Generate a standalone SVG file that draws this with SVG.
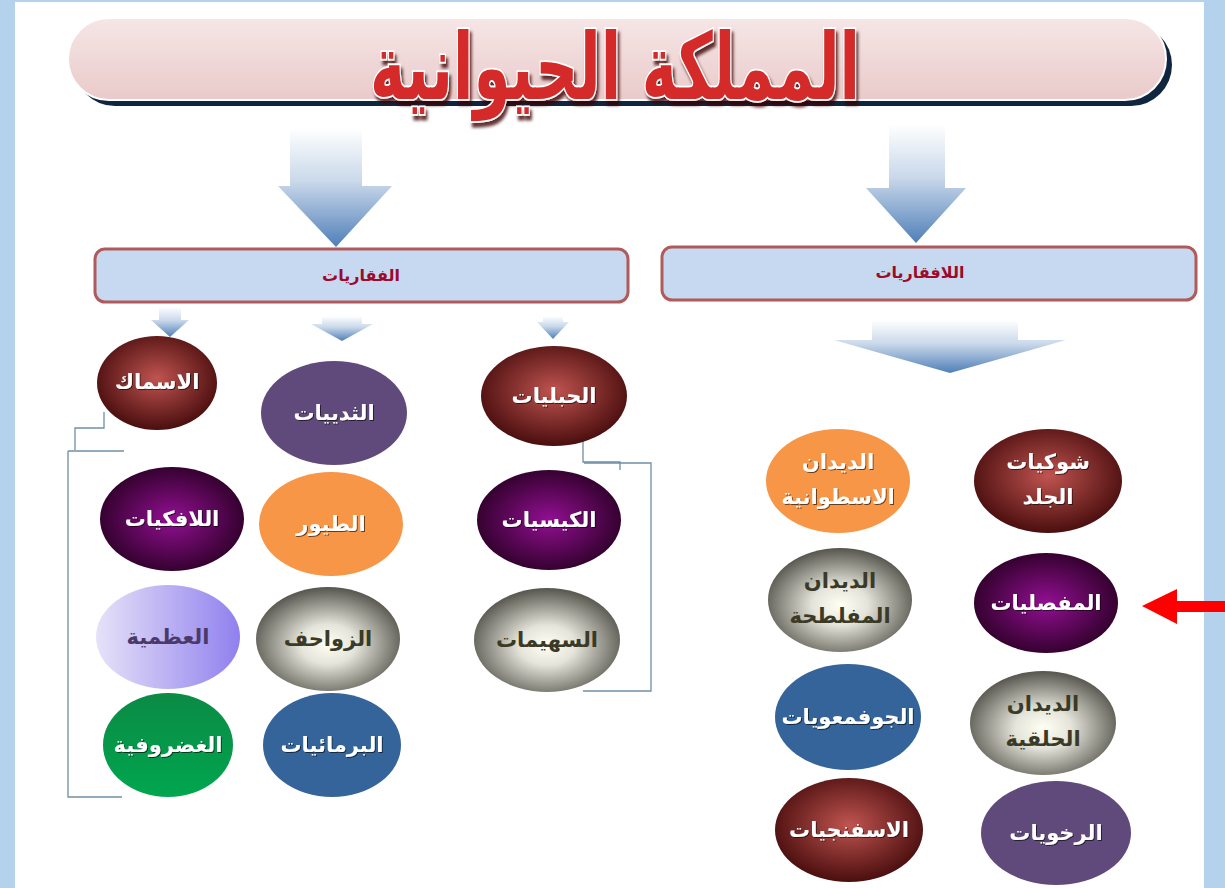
<svg xmlns="http://www.w3.org/2000/svg" width="1225" height="888" viewBox="0 0 1225 888">
<style>
.lbl{font-family:'DejaVu Sans','Noto Sans',sans-serif;font-weight:bold;font-size:21px;text-anchor:middle;fill:#ffffff}
.dk{fill:#3a3a26}
.lv{fill:#4a3a6a}
.box{fill:#c6d9f1;stroke:#b05a5a;stroke-width:3}
.boxt{font-family:'DejaVu Sans','Noto Sans',sans-serif;font-weight:bold;font-size:16px;text-anchor:middle;fill:#9c0b2a}
.br{fill:none;stroke:#6f8fa6;stroke-width:1.3}
.arr{fill:url(#ga)}
</style>
<defs>
<linearGradient id="ga" x1="0" y1="0" x2="0" y2="1">
<stop offset="0" stop-color="#ffffff"/>
<stop offset="0.45" stop-color="#c9d8ea"/>
<stop offset="1" stop-color="#4f7fb8"/>
</linearGradient>
<linearGradient id="gp" x1="0" y1="0" x2="0" y2="1">
<stop offset="0" stop-color="#f6e6e6"/>
<stop offset="1" stop-color="#eacaca"/>
</linearGradient>
<radialGradient id="gr" cx="0.5" cy="0.45" r="0.55">
<stop offset="0" stop-color="#c05450"/>
<stop offset="1" stop-color="#4a0e0e"/>
</radialGradient>
<radialGradient id="gv" cx="0.5" cy="0.5" r="0.55">
<stop offset="0" stop-color="#920f92"/>
<stop offset="1" stop-color="#2c0026"/>
</radialGradient>
<radialGradient id="gg" cx="0.5" cy="0.55" r="0.55">
<stop offset="0" stop-color="#fffff4"/>
<stop offset="0.35" stop-color="#e4e4da"/>
<stop offset="1" stop-color="#55554d"/>
</radialGradient>
<linearGradient id="gl" x1="0" y1="0" x2="1" y2="0">
<stop offset="0" stop-color="#e6e2f8"/>
<stop offset="1" stop-color="#9080ee"/>
</linearGradient>
<linearGradient id="gn" x1="0" y1="0" x2="0" y2="1">
<stop offset="0" stop-color="#0b8a45"/>
<stop offset="1" stop-color="#00a64f"/>
</linearGradient>
<filter id="sh" x="-5%" y="-5%" width="110%" height="125%">
<feDropShadow dx="2" dy="4" stdDeviation="1.5" flood-color="#3a0000" flood-opacity="0.8"/>
</filter>
<filter id="ts" x="-5%" y="-10%" width="110%" height="130%">
<feDropShadow dx="1" dy="1" stdDeviation="0.6" flood-color="#000000" flood-opacity="0.6"/>
</filter>
</defs>

<rect x="0" y="0" width="1225" height="888" fill="#b5d2ec"/>
<rect x="15" y="2" width="1189" height="886" fill="#ffffff"/>

<g id="title">
<rect x="74" y="24" width="1098" height="82" rx="41" fill="#10253f"/>
<rect x="68" y="18" width="1098" height="82" rx="41" fill="url(#gp)" stroke="#ffffff" stroke-width="2"/>
<text transform="translate(615,99) scale(1,1.15)" x="0" y="0" font-family="'DejaVu Sans','Noto Sans',sans-serif" font-weight="bold" font-size="80" text-anchor="middle" fill="#d42a2a" stroke="#ffffff" stroke-width="3" paint-order="stroke" filter="url(#sh)" textLength="490" lengthAdjust="spacingAndGlyphs">المملكة الحيوانية</text>
</g>

<g id="connectors">
<polygon class="arr" points="290,128 362,128 362,186 392,186 336,247 278,186 290,186"/>
<polygon class="arr" points="889,124 945,124 945,188 966,188 916,243 866,188 889,188"/>
<polygon class="arr" points="159,307 181,307 181,320 189,320 170,337 151,320 159,320"/>
<polygon class="arr" points="322,316 362,316 362,324 373,324 342,341 311,324 322,324"/>
<polygon class="arr" points="543,316 563,316 563,322 569,322 553,339 537,322 543,322"/>
<polygon class="arr" points="872,320 1018,320 1018,340 1066,340 950,373 834,340 872,340"/>
<path class="br" d="M104,412 V428 H75 V450"/>
<path class="br" d="M68,451 H124"/>
<path class="br" d="M68,451 V797 H122"/>
<path class="br" d="M583,440 V462 H620 V470"/>
<path class="br" d="M584,463 H651 V691 H583"/>
<polygon points="1142,606 1177,589 1177,601 1225,601 1225,612 1177,612 1177,624" fill="#ff0000"/>
</g>

<g id="vertebrates">
<rect class="box" x="95" y="249" width="533" height="53" rx="10"/>
<text class="boxt" x="361" y="281">الفقاريات</text>
</g>
<g id="invertebrates">
<rect class="box" x="662" y="247" width="534" height="53" rx="10"/>
<text class="boxt" x="920" y="278">اللافقاريات</text>
</g>

<g id="fish"><ellipse cx="157" cy="383" rx="60" ry="47" fill="url(#gr)"/><text class="lbl" filter="url(#ts)" x="157" y="389">الاسماك</text></g>
<g id="mammals"><ellipse cx="334" cy="413" rx="73" ry="52" fill="#604a7b"/><text class="lbl" filter="url(#ts)" x="334" y="420">الثدييات</text></g>
<g id="chordates"><ellipse cx="554" cy="396" rx="73" ry="50" fill="url(#gr)"/><text class="lbl" filter="url(#ts)" x="554" y="403">الحبليات</text></g>
<g id="jawless"><ellipse cx="172" cy="519" rx="72" ry="52" fill="url(#gv)"/><text class="lbl" filter="url(#ts)" x="172" y="526">اللافكيات</text></g>
<g id="birds"><ellipse cx="331" cy="524" rx="72" ry="52" fill="#f79646"/><text class="lbl" filter="url(#ts)" x="331" y="531">الطيور</text></g>
<g id="tunicates"><ellipse cx="549" cy="520" rx="72" ry="50" fill="url(#gv)"/><text class="lbl" filter="url(#ts)" x="549" y="527">الكيسيات</text></g>
<g id="bony"><ellipse cx="168" cy="637" rx="72" ry="52" fill="url(#gl)"/><text class="lbl lv" x="168" y="644">العظمية</text></g>
<g id="reptiles"><ellipse cx="328" cy="639" rx="72" ry="52" fill="url(#gg)"/><text class="lbl dk" x="328" y="646">الزواحف</text></g>
<g id="lancelets"><ellipse cx="547" cy="640" rx="73" ry="52" fill="url(#gg)"/><text class="lbl dk" x="547" y="647">السهيمات</text></g>
<g id="cartilaginous"><ellipse cx="168" cy="745" rx="65" ry="52" fill="url(#gn)"/><text class="lbl" filter="url(#ts)" x="168" y="752">الغضروفية</text></g>
<g id="amphibians"><ellipse cx="332" cy="745" rx="69" ry="52" fill="#34649a"/><text class="lbl" filter="url(#ts)" x="332" y="752">البرمائيات</text></g>

<g id="roundworms"><ellipse cx="838" cy="481" rx="72" ry="52" fill="#f79646"/><text class="lbl" filter="url(#ts)" x="838" y="469">الديدان</text><text class="lbl" filter="url(#ts)" x="838" y="504">الاسطوانية</text></g>
<g id="echinoderms"><ellipse cx="1048" cy="481" rx="74" ry="52" fill="url(#gr)"/><text class="lbl" filter="url(#ts)" x="1048" y="469">شوكيات</text><text class="lbl" filter="url(#ts)" x="1048" y="504">الجلد</text></g>
<g id="flatworms"><ellipse cx="840" cy="600" rx="72" ry="52" fill="url(#gg)"/><text class="lbl dk" x="840" y="588">الديدان</text><text class="lbl dk" x="840" y="623">المفلطحة</text></g>
<g id="arthropods"><ellipse cx="1046" cy="603" rx="72" ry="50" fill="url(#gv)"/><text class="lbl" filter="url(#ts)" x="1046" y="610">المفصليات</text></g>
<g id="cnidarians"><ellipse cx="848" cy="717" rx="73" ry="53" fill="#34649a"/><text class="lbl" filter="url(#ts)" x="848" y="724">الجوفمعويات</text></g>
<g id="annelids"><ellipse cx="1043" cy="723" rx="73" ry="52" fill="url(#gg)"/><text class="lbl dk" x="1043" y="711">الديدان</text><text class="lbl dk" x="1043" y="746">الحلقية</text></g>
<g id="sponges"><ellipse cx="849" cy="830" rx="74" ry="52" fill="url(#gr)"/><text class="lbl" filter="url(#ts)" x="849" y="837">الاسفنجيات</text></g>
<g id="mollusks"><ellipse cx="1056" cy="833" rx="75" ry="52" fill="#604a7b"/><text class="lbl" filter="url(#ts)" x="1056" y="840">الرخويات</text></g>
</svg>
